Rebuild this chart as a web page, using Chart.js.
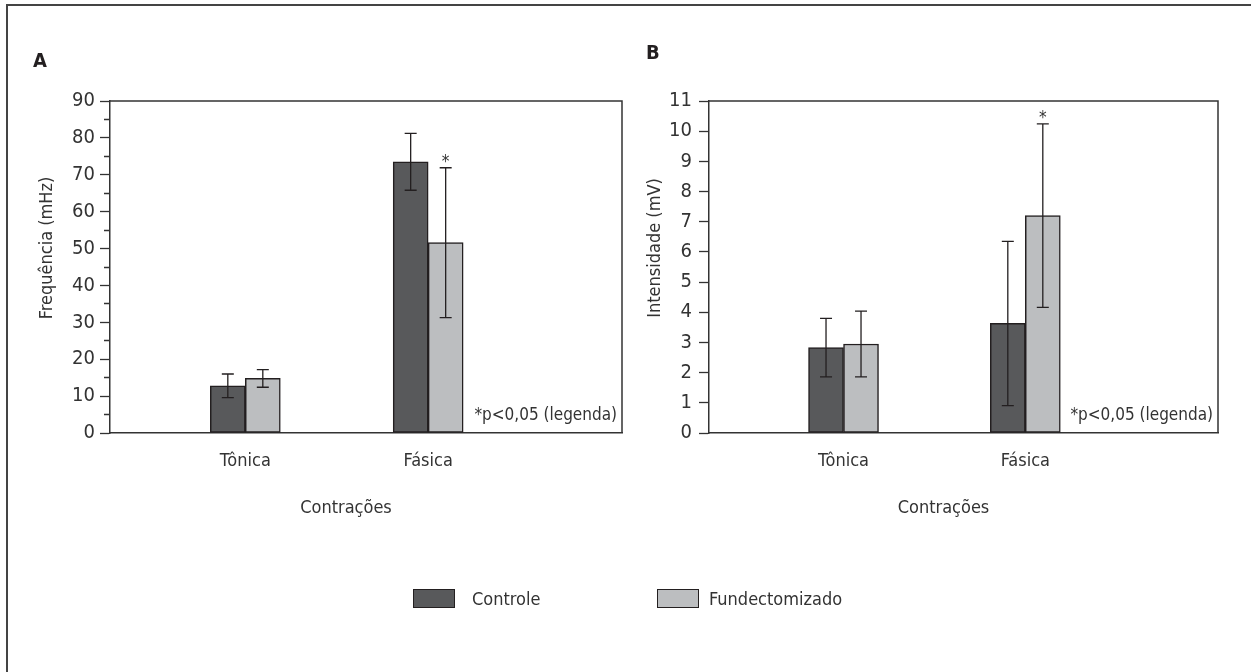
<!DOCTYPE html>
<html>
<head>
<meta charset="utf-8">
<script src="https://cdn.jsdelivr.net/npm/chart.js@4.4.1/dist/chart.umd.min.js"></script>
<style>
  body { margin: 0; background: #fff; }
  #page { position: relative; width: 1251px; height: 672px; overflow: hidden; }
  #frame { position: absolute; left: 6px; top: 4px; width: 1400px; height: 800px;
           border-top: 2px solid #444; border-left: 2px solid #444; }
  .wrap { position: absolute; top: 0; }
  #legend { position: absolute; left: 413px; top: 588px; display: flex;
            font-family: 'DejaVu Sans Condensed', sans-serif; font-size: 18px; color: #333; }
  .item { display: flex; align-items: center; width: 244px; }
  .box { width: 40px; height: 17px; border: 1.5px solid #231f20; }
</style>
</head>
<body>
<div id="page">
  <div id="frame"></div>
  <div class="wrap" style="left:0"><canvas id="chartA" width="630" height="672"></canvas></div>
  <div class="wrap" style="left:630px"><canvas id="chartB" width="621" height="672"></canvas></div>
  <div id="legend"></div>
</div>
<script>
// categories and series
var categories = ['Tônica', 'Fásica'];
var catPos = [1, 2];
var seriesNames = ['Controle', 'Fundectomizado'];
var seriesColors = ['#58595b', '#bcbec0'];

// A - frequencia (mHz)
var freqControle = [12.8, 73.5];
var freqControleErr = [3.2, 7.7];
var freqFundecto = [14.8, 51.6];
var freqFundectoErr = [2.4, 20.3];

// B - intensidade (mV)
var intControle = [2.83, 3.63];
var intControleErr = [0.97, 2.72];
var intFundecto = [2.95, 7.2];
var intFundectoErr = [1.09, 3.04];

// significancia (*)
var controleSig = [false, false];
var fundectoSig = [false, true];

var COND = "'DejaVu Sans Condensed', sans-serif";
var INK = '#333';

function toPoints(vals) {
  var out = [];
  for (var i in vals) out.push({ x: catPos[i], y: vals[i] });
  return out;
}

var extras = {
  id: 'extras',
  beforeDatasetsDraw: function(chart, args, opts) {
    var ctx = chart.ctx, a = chart.chartArea;
    ctx.save();
    ctx.strokeStyle = INK;
    ctx.lineWidth = 1.5;
    ctx.beginPath();
    ctx.moveTo(a.left, a.top);
    ctx.lineTo(a.right, a.top);
    ctx.lineTo(a.right, a.bottom);
    ctx.stroke();
    ctx.restore();
  },
  afterDatasetsDraw: function(chart, args, opts) {
    var ctx = chart.ctx, a = chart.chartArea, ys = chart.scales.y;
    ctx.save();
    // barras de erro
    chart.data.datasets.forEach(function(ds, i) {
      chart.getDatasetMeta(i).data.forEach(function(bar, j) {
        var m = ds.data[j].y, e = ds.errors[j];
        var top = ys.getPixelForValue(m + e), bot = ys.getPixelForValue(m - e);
        ctx.strokeStyle = '#231f20';
        ctx.lineWidth = 1.3;
        ctx.beginPath();
        ctx.moveTo(bar.x, top); ctx.lineTo(bar.x, bot);
        ctx.moveTo(bar.x - 6, top); ctx.lineTo(bar.x + 6, top);
        ctx.moveTo(bar.x - 6, bot); ctx.lineTo(bar.x + 6, bot);
        ctx.stroke();
        if (ds.sig[j]) {
          ctx.fillStyle = INK;
          ctx.font = '17px ' + COND;
          ctx.textAlign = 'center';
          ctx.textBaseline = 'alphabetic';
          ctx.fillText('*', bar.x, top - 1);
        }
      });
    });
    ctx.fillStyle = INK;
    ctx.font = '17px ' + COND;
    ctx.textAlign = 'right';
    ctx.textBaseline = 'alphabetic';
    ctx.fillText(opts.note, a.right - 5, a.bottom - 13);

    // titulos dos eixos
    ctx.font = '18px ' + COND;
    ctx.textAlign = 'center';
    ctx.textBaseline = 'middle';
    ctx.fillText(opts.xTitle, (a.left + a.right) / 2 - 20, a.bottom + 75);
    ctx.save();
    ctx.translate(a.left + opts.yTitleDx, (a.top + a.bottom) / 2 - 19);
    ctx.rotate(-Math.PI / 2);
    ctx.fillText(opts.yTitle, 0, 0);
    ctx.restore();

    ctx.font = 'bold 20px ' + COND;
    ctx.textAlign = 'left';
    ctx.textBaseline = 'middle';
    ctx.fillStyle = '#231f20';
    ctx.fillText(opts.letter, a.left + opts.letterDx, a.top + opts.letterDy);
    ctx.restore();
  }
};

function makeChart(id, c) {
  return new Chart(document.getElementById(id), {
    type: 'bar',
    data: {
      datasets: [
        {
          label: seriesNames[0],
          data: toPoints(c.controle),
          errors: c.controleErr,
          sig: controleSig,
          backgroundColor: seriesColors[0],
          borderColor: '#231f20',
          borderWidth: 1.5,
          borderSkipped: false,
          barThickness: 35
        },
        {
          label: seriesNames[1],
          data: toPoints(c.fundecto),
          errors: c.fundectoErr,
          sig: fundectoSig,
          backgroundColor: seriesColors[1],
          borderColor: '#231f20',
          borderWidth: 1.5,
          borderSkipped: false,
          barThickness: 35
        }
      ]
    },
    options: {
      responsive: false,
      animation: false,
      events: [],
      layout: { padding: c.padding },
      plugins: {
        legend: { display: false },
        tooltip: { enabled: false },
        extras: {
          note: '*p<0,05 (legenda)',
          xTitle: 'Contrações', yTitle: c.yTitle, yTitleDx: c.yTitleDx,
          letter: c.letter, letterDx: c.letterDx, letterDy: c.letterDy
        }
      },
      scales: {
        x: {
          type: 'linear',
          min: 0.26,
          max: 3.06,
          offset: false,
          afterBuildTicks: function(s) { s.ticks = catPos.map(function(v) { return { value: v }; }); },
          afterFit: function(s) { s.height = 100; },
          grid: { display: false, drawTicks: false },
          border: { display: true, color: INK, width: 1.5 },
          ticks: {
            autoSkip: false,
            maxRotation: 0,
            padding: 18,
            color: INK,
            font: { family: COND, size: 18 },
            callback: function(v) { return categories[catPos.indexOf(v)]; }
          }
        },
        y: {
          min: 0,
          max: c.yMax,
          afterFit: function(s) { s.width = c.yWidth; },
          ticks: {
            stepSize: c.minorStep,
            autoSkip: false,
            padding: c.tickPad,
            color: INK,
            font: { family: COND, size: 20 },
            callback: function(v) { return v % c.step === 0 ? v : ''; }
          },
          grid: {
            drawOnChartArea: false,
            tickLength: 10,
            tickColor: INK,
            tickWidth: 1.3,
            tickBorderDash: function(ctx) {
              return (ctx.tick && ctx.tick.value % c.step !== 0) ? [0, 4, 6, 0] : [];
            }
          },
          border: { display: true, color: INK, width: 1.5 }
        }
      }
    },
    plugins: [extras]
  });
}

makeChart('chartA', {
  controle: freqControle, controleErr: freqControleErr,
  fundecto: freqFundecto, fundectoErr: freqFundectoErr,
  yMax: 90, step: 10, minorStep: 5, yTitle: 'Frequência (mHz)', yTitleDx: -63,
  yWidth: 77, tickPad: 5,
  padding: { left: 33, top: 101, right: 8, bottom: 139 },
  letter: 'A', letterDx: -77, letterDy: -39
});

makeChart('chartB', {
  controle: intControle, controleErr: intControleErr,
  fundecto: intFundecto, fundectoErr: intFundectoErr,
  yMax: 11, step: 1, minorStep: 1, yTitle: 'Intensidade (mV)', yTitleDx: -54,
  yWidth: 67, tickPad: 7,
  padding: { left: 12, top: 101, right: 33, bottom: 139 },
  letter: 'B', letterDx: -63, letterDy: -47
});

// legenda
var legend = document.getElementById('legend');
var boxGap = [17, 10];
seriesNames.forEach(function(name, i) {
  var item = document.createElement('div');
  item.className = 'item';
  var box = document.createElement('span');
  box.className = 'box';
  box.style.background = seriesColors[i];
  box.style.marginRight = boxGap[i] + 'px';
  var txt = document.createElement('span');
  txt.textContent = name;
  item.appendChild(box);
  item.appendChild(txt);
  legend.appendChild(item);
});
</script>
</body>
</html>
